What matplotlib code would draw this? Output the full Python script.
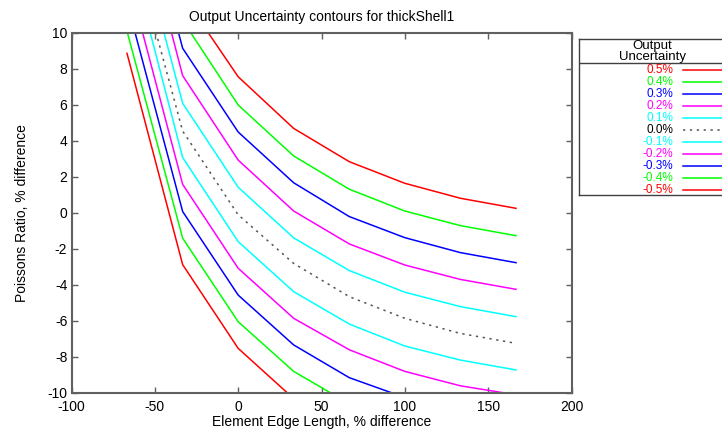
import matplotlib
matplotlib.use("Agg")
import matplotlib.pyplot as plt
from matplotlib.lines import Line2D

plt.rcParams['font.family'] = ['Liberation Sans', 'DejaVu Sans']
plt.rcParams['font.size'] = 10
plt.rcParams['axes.unicode_minus'] = False

# ----------------------------------------------------
# Contour data (x grid in %, y in %)
# ----------------------------------------------------
x_grid = [-66.7, -33.3, 0.0, 33.3, 66.7, 100.0, 133.3, 166.7]

levels = ["0.5%", "0.4%", "0.3%", "0.2%", "0.1%", "0.0%",
          "-0.1%", "-0.2%", "-0.3%", "-0.4%", "-0.5%"]
colors = ["#ff0000", "#00ff00", "#0000ff", "#ff00ff", "#00ffff", "#555555",
          "#00ffff", "#ff00ff", "#0000ff", "#00ff00", "#ff0000"]

y_p05 = [23.8, 12.1, 7.57, 4.7, 2.85, 1.65, 0.82, 0.26]
y_p04 = [22.4, 10.7, 6.0, 3.17, 1.32, 0.11, -0.7, -1.26]
y_p03 = [20.8, 9.15, 4.5, 1.68, -0.2, -1.37, -2.2, -2.76]
y_p02 = [19.5, 7.63, 2.94, 0.11, -1.72, -2.89, -3.69, -4.24]
y_p01 = [17.8, 6.09, 1.43, -1.38, -3.2, -4.4, -5.2, -5.76]
y_000 = [16.0, 4.55, -0.1, -2.8, -4.65, -5.85, -6.69, -7.24]
y_m01 = [15.0, 3.08, -1.59, -4.37, -6.17, -7.39, -8.17, -8.72]
y_m02 = [13.3, 1.59, -3.07, -5.85, -7.6, -8.8, -9.6, -10.1]
y_m03 = [11.7, 0.08, -4.56, -7.33, -9.15, -10.25]
y_m04 = [10.1, -1.4, -6.04, -8.8, -10.6]
y_m05 = [8.87, -2.87, -7.52, -10.31]

series = [y_p05, y_p04, y_p03, y_p02, y_p01, y_000,
          y_m01, y_m02, y_m03, y_m04, y_m05]

W, H = 722, 432
fig = plt.figure(figsize=(W / 100, H / 100), dpi=100)

# main axes placed in pixel terms
left, right, top, bottom = 71.5, 571.5, 33, 393
ax = fig.add_axes([left / W, 1 - bottom / H, (right - left) / W, (bottom - top) / H])

for name, col, ys in zip(levels, colors, series):
    ls = (0, (1.5, 3)) if name == "0.0%" else "-"
    ax.plot(x_grid[:len(ys)], ys, color=col, lw=1.1, ls=ls)

ax.set_xlim(-100, 200)
ax.set_ylim(-10, 10)
ax.set_xticks(range(-100, 201, 50))
ax.set_yticks(range(-10, 11, 2))
ax.tick_params(direction='in', top=True, right=True, length=4, width=1,
               color='#606060', labelsize=10)
ax.tick_params(axis='x', pad=5)
ax.tick_params(axis='y', pad=3)
for s in ax.spines.values():
    s.set_color('#606060')
    s.set_linewidth(1.5)

ax.set_xlabel("Element Edge Length, % difference", fontsize=10, labelpad=1)
ax.set_ylabel("Poissons Ratio, % difference", fontsize=10, labelpad=13)
ax.set_title("Output Uncertainty contours for thickShell1", fontsize=10, pad=9)

# ----------------------------------------------------
# Hand-made legend box on the right (partly off the figure)
# ----------------------------------------------------
lx0, lx1, ly0, ly1 = 579.3, 740, 39.3, 195
lax = fig.add_axes([lx0 / W, 1 - ly1 / H, (lx1 - lx0) / W, (ly1 - ly0) / H])
lax.set_xlim(lx0, lx1)
lax.set_ylim(ly1, ly0)
lax.set_xticks([])
lax.set_yticks([])
lax.patch.set_alpha(0)
for k, s in lax.spines.items():
    s.set_color('#404040')
    s.set_linewidth(1.0)
lax.spines['right'].set_visible(False)

lax.text(652.5, 51.2, "Output\nUncertainty", ha='center', va='center',
         fontsize=9.5, linespacing=0.85)
lax.add_line(Line2D([lx0, lx1], [63.3, 63.3], color='#404040', lw=1.0))

for i, (name, col) in enumerate(zip(levels, colors)):
    yy = 70 + 12 * i
    tcol = 'black' if name == "0.0%" else col
    lax.text(673.5, yy, name, ha='right', va='center', color=tcol, fontsize=8.5)
    ls = (0, (1.5, 3)) if name == "0.0%" else "-"
    lax.add_line(Line2D([683, lx1], [yy, yy], color=col, lw=1.1, ls=ls))

fig.savefig("out.png", dpi=100)
